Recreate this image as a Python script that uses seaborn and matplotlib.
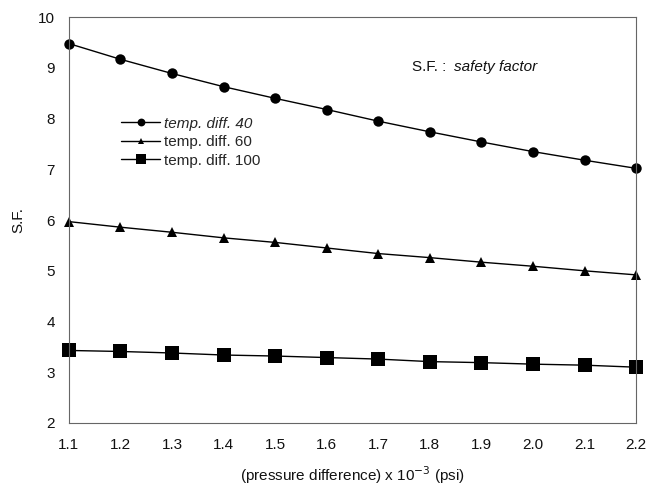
import matplotlib
matplotlib.use("Agg")
import matplotlib.pyplot as plt
import seaborn as sns
import pandas as pd

pressure = [1.1, 1.2, 1.3, 1.4, 1.5, 1.6, 1.7, 1.8, 1.9, 2.0, 2.1, 2.2]
sf_40 = [9.48, 9.17, 8.89, 8.63, 8.40, 8.18, 7.95, 7.74, 7.54, 7.35, 7.18, 7.02]
sf_60 = [5.97, 5.86, 5.76, 5.65, 5.56, 5.45, 5.34, 5.26, 5.17, 5.09, 5.00, 4.92]
sf_100 = [3.43, 3.41, 3.38, 3.34, 3.32, 3.29, 3.26, 3.21, 3.19, 3.16, 3.14, 3.10]
series_labels = ["temp. diff. 40", "temp. diff. 60", "temp. diff. 100"]
x_ticks = [1.1, 1.2, 1.3, 1.4, 1.5, 1.6, 1.7, 1.8, 1.9, 2.0, 2.1, 2.2]
x_tick_labels = ["1.1", "1.2", "1.3", "1.4", "1.5", "1.6", "1.7", "1.8", "1.9", "2.0", "2.1", "2.2"]
y_ticks = [2, 3, 4, 5, 6, 7, 8, 9, 10]

sns.set_theme(style="white")
plt.rcParams['font.family'] = ['Liberation Sans', 'DejaVu Sans']

fig = plt.figure(figsize=(6.62, 4.91), dpi=100)
ax = fig.add_axes([0.104, 0.1385, 0.857, 0.8265])

markers = ["o", "^", "s"]
msizes = [7.5, 6.5, 10]
for vals, lab, m, ms in zip([sf_40, sf_60, sf_100], series_labels, markers, msizes):
    df = pd.DataFrame({"x": pressure, "y": vals})
    sns.lineplot(data=df, x="x", y="y", ax=ax, color="black", marker=m,
                 markersize=ms, markeredgewidth=0, linewidth=1.0,
                 label=lab, clip_on=False)

fs = 11
ax.set_xlim(1.1, 2.2)
ax.set_ylim(2, 10)
ax.set_xticks(x_ticks)
ax.set_xticklabels(x_tick_labels)
ax.set_yticks(y_ticks)
ax.tick_params(axis="both", length=0, labelsize=fs, colors="#111111")
ax.tick_params(axis="x", pad=11)
ax.tick_params(axis="y", pad=10)
for s in ax.spines.values():
    s.set_color("#666666")
    s.set_linewidth(0.8)

ax.set_xlabel(r"(pressure difference) x 10$^{-3}$ (psi)", fontsize=fs, color="#111111", labelpad=9)
ax.set_ylabel("S.F.", fontsize=fs, color="#111111", labelpad=9)

leg = ax.legend(loc="upper left", bbox_to_anchor=(0.082, 0.77), frameon=False,
                fontsize=fs, handlelength=2.5, handletextpad=0.3, labelspacing=0.3,
                borderaxespad=0, markerscale=0.75)
leg.get_texts()[0].set_fontstyle("italic")

ax.text(0.605, 0.877, "S.F. :", transform=ax.transAxes, fontsize=fs, color="#111111",
        ha="left", va="center")
ax.text(0.678, 0.877, "safety factor", transform=ax.transAxes, fontsize=fs, color="#111111",
        ha="left", va="center", fontstyle="italic")

fig.savefig("out.png", dpi=100)
